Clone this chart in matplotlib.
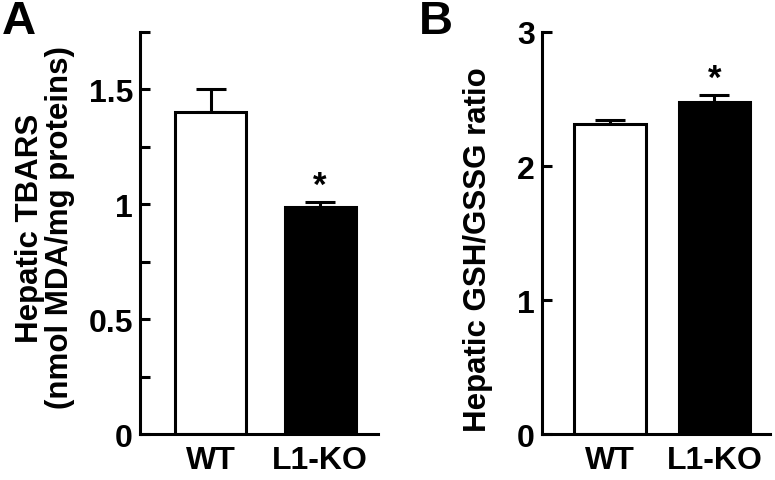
import matplotlib.pyplot as plt
import numpy as np

plt.rcParams['font.family'] = ['Liberation Sans', 'DejaVu Sans']
plt.rcParams['font.weight'] = 'bold'

groups = ["WT", "L1-KO"]
tbars_mean = [1.40, 0.99]
tbars_err = [0.10, 0.02]
ratio_mean = [2.31, 2.48]
ratio_err = [0.03, 0.05]
fills = ["white", "black"]


def draw_panel(ax, means, errs, width, top, ticks, labels, minor):
    x = np.arange(len(means))
    ax.bar(x, means, width=width, color=fills, edgecolor="black", linewidth=2.2, zorder=2)
    ax.errorbar(x, means, yerr=[np.zeros(len(errs)), errs], fmt="none",
                ecolor="black", elinewidth=2.2, capsize=11, capthick=2.2, zorder=1)
    ax.set_xlim(-0.65, 1.53)
    ax.set_ylim(0, top)
    ax.set_yticks(ticks)
    ax.set_yticklabels(labels)
    if minor:
        ax.set_yticks(minor, minor=True)
    ax.set_xticks(x)
    ax.set_xticklabels(groups)
    ax.spines["top"].set_visible(False)
    ax.spines["right"].set_visible(False)
    ax.spines["left"].set_linewidth(2.2)
    ax.spines["bottom"].set_linewidth(2.2)
    ax.tick_params(axis="y", which="both", direction="in", length=7, width=2.2,
                   labelsize=23, pad=5)
    ax.tick_params(axis="x", length=0, labelsize=23, pad=8)
    # significance star above the L1-KO bar
    ax.text(1, means[1] + errs[1], "*", ha="center", va="bottom",
            fontsize=25, fontweight="bold")


fig = plt.figure(figsize=(7.75, 4.81), dpi=100)
ax1 = fig.add_axes([0.1806, 0.0956, 0.307, 0.8358])
ax2 = fig.add_axes([0.6994, 0.0956, 0.294, 0.8358])

draw_panel(ax1, tbars_mean, tbars_err, 0.65, 1.75, [0, 0.5, 1, 1.5],
           ["0", "0.5", "1", "1.5"], [0.25, 0.75, 1.25, 1.75])
draw_panel(ax2, ratio_mean, ratio_err, 0.68, 3, [0, 1, 2, 3],
           ["0", "1", "2", "3"], None)

ax1.set_ylabel("Hepatic TBARS\n(nmol MDA/mg proteins)", fontsize=22.5,
               fontweight="bold", linespacing=1.0)
ax1.yaxis.set_label_coords(-0.275, 0.515)
ax2.set_ylabel("Hepatic GSH/GSSG ratio", fontsize=22.5, fontweight="bold")
ax2.yaxis.set_label_coords(-0.215, 0.46)

fig.text(0.002, 1.0, "A", fontsize=34, fontweight="bold", va="top", ha="left")
fig.text(0.540, 1.0, "B", fontsize=34, fontweight="bold", va="top", ha="left")

fig.savefig("out.png", dpi=100)
